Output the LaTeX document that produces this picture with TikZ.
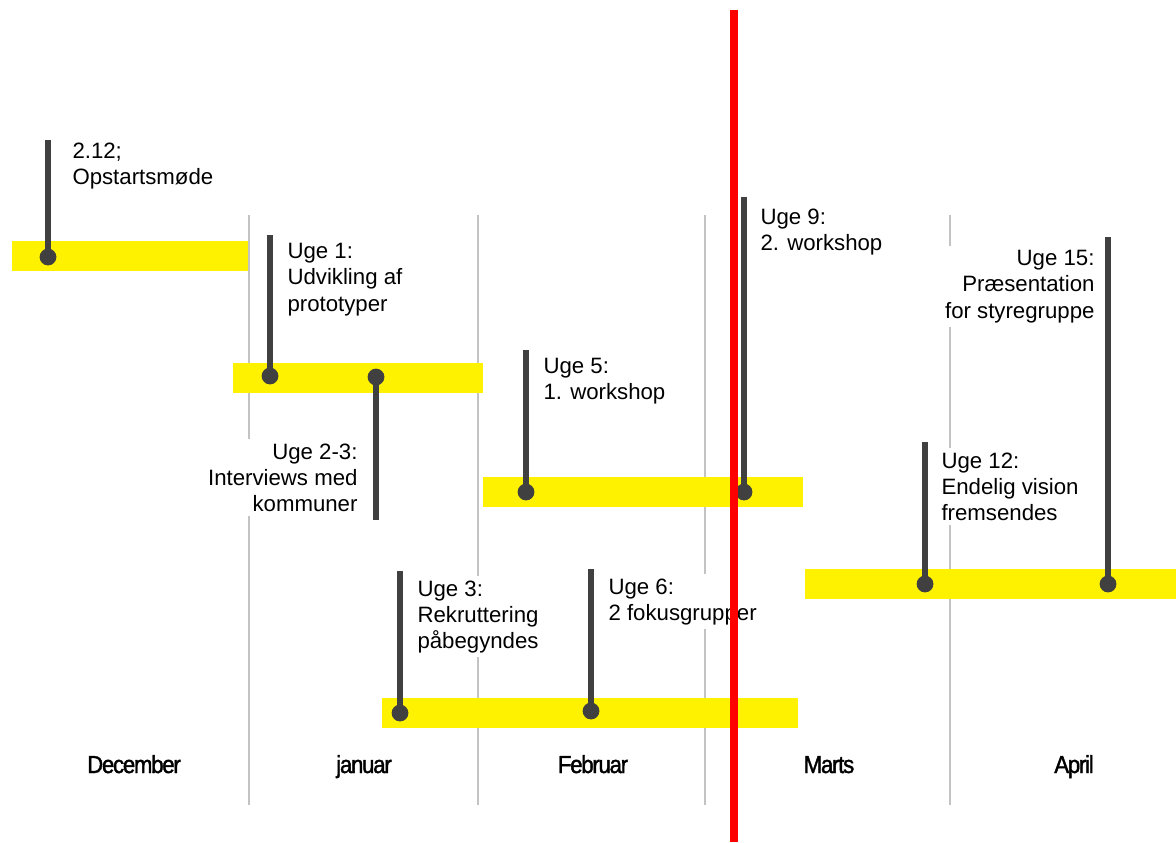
\documentclass[tikz,border=0pt]{standalone}
\usepackage{fontspec}
\setmainfont{Liberation Sans}
\newfontfamily\monthfont[FakeStretch=0.9,FakeBold=1.6,LetterSpace=-5]{Liberation Sans}
\usepackage{tikz}
\usetikzlibrary{positioning}
\definecolor{barfill}{HTML}{FFF200}
\definecolor{stemgray}{HTML}{404040}
\definecolor{sepgray}{HTML}{C3C3C3}

\begin{document}
\begin{tikzpicture}[x=0.025cm,y=-0.025cm]
	\tikzset{
		monthsep/.style={sepgray,line width=2.1pt},
		bar/.style={fill=barfill,draw=none},
		stem/.style={stemgray,line width=3.6pt},
		dot/.style={circle,fill=stemgray,minimum size=0.42cm,inner sep=0},
		lbl/.style={fill=white,inner sep=3pt,font=\fontsize{15.8}{18.6}\selectfont},
		month/.style={anchor=base,inner sep=0,font=\monthfont\fontsize{17.5}{18}\selectfont},
		today/.style={red,line width=5.7pt}
	}
	
	\useasboundingbox (0,0) rectangle (1176,842);
	
	% month separators
	\foreach \x/\name in {249/sa,478/sb,705/sc,950/sd}{
		\coordinate (\name top) at (\x,215);
		\coordinate (\name bot) at (\x,805);
		\draw[monthsep] (\name top) -- (\name bot);
	}
	
	% yellow periods
	\foreach \xa/\xb/\y in {12/248/256, 233/483/378, 483/803/492, 805/1176/584, 382/798/713}
		\fill[bar] (\xa,\y-15) rectangle (\xb,\y+15);
	
	% labels
	\node[lbl,anchor=north west,align=left] (la) at (68,138) {2.12;\\Opstartsmøde};
	\node[lbl,anchor=north west,align=left] (lb) at (283,239) {Uge 1:\\Udvikling af\\prototyper};
	\node[lbl,anchor=north east,align=right] (lc) at (362,439) {Uge 2-3:\\Interviews med\\kommuner};
	\node[lbl,anchor=north west,align=left] (ld) at (539,354) {Uge 5:\\1. workshop};
	\node[lbl,anchor=north west,align=left] (le) at (756,204) {Uge 9:\\2. workshop};
	\node[lbl,anchor=north west,align=left] (lf) at (937,448) {Uge 12:\\Endelig vision\\fremsendes};
	\node[lbl,anchor=north east,align=right] (lg) at (1099,246) {Uge 15:\\Præsentation\\for styregruppe};
	\node[lbl,anchor=north west,align=left] (lh) at (413,576) {Uge 3:\\Rekruttering\\påbegyndes};
	\node[lbl,anchor=north west,align=left] (li) at (604,574) {Uge 6:\\2 fokusgrupper};
	
	% milestones
	\foreach \x/\yend/\ydot/\name in {48/140/257/ma, 270/235/376/mb, 376/520/377/mc, 526/350/492/md,
		744/197/492/me, 925/442/584/mf, 1108/237/584/mg, 400/571/713/mh, 591/569/711/mi}{
		\coordinate (\name end) at (\x,\yend);
		\node[dot] (\name) at (\x,\ydot) {};
		\draw[stem] (\name end) -- (\name.center);
	}
	
	% months
	\foreach \x/\mname/\name in {134/December/dec, 364/januar/jan, 593/Februar/feb, 829/Marts/mar, 1074/April/apr}
		\node[month] (\name) at (\x,773) {\mname};
	
	% today
	\coordinate (nowtop) at (734,10);
	\coordinate (nowbot) at (734,842);
	\draw[today] (nowtop) -- (nowbot);
\end{tikzpicture}
\end{document}
